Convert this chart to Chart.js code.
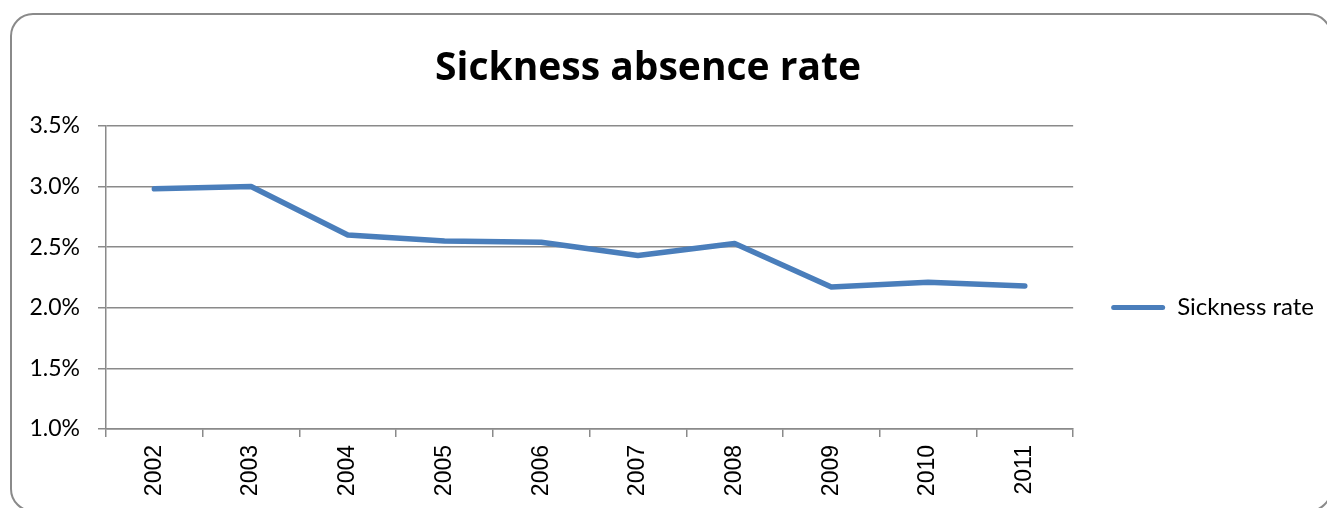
<!DOCTYPE html>
<html>
<head>
<meta charset="utf-8">
<title>Sickness absence rate</title>
<script src="https://cdn.jsdelivr.net/npm/chart.js@4/dist/chart.umd.min.js"></script>
<style>
  html, body { margin: 0; padding: 0; background: #ffffff; }
  #wrap { width: 1327px; height: 508px; }
</style>
</head>
<body>
<div id="wrap"><canvas id="chart" width="1327" height="508"></canvas></div>
<script>
// Yearly sickness absence rate, in percent
const years = ['2002', '2003', '2004', '2005', '2006', '2007', '2008', '2009', '2010', '2011'];
const sicknessRate = [2.98, 3.00, 2.60, 2.55, 2.54, 2.43, 2.53, 2.17, 2.21, 2.18];
const seriesName = 'Sickness rate';
const chartTitle = 'Sickness absence rate';
const yTicks = [1.0, 1.5, 2.0, 2.5, 3.0, 3.5];

const AXIS_GREY = '#8a8a8a';
const LINE_BLUE = '#4A7EBB';

// Rounded frame around the whole chart
const framePlugin = {
  id: 'frame',
  beforeDraw(chart) {
    const ctx = chart.ctx;
    ctx.save();
    ctx.strokeStyle = '#8a8a8a';
    ctx.lineWidth = 2;
    ctx.beginPath();
    ctx.roundRect(11, 14, 1320, 497, 22);
    ctx.stroke();
    ctx.restore();
  }
};

// Place the legend block beside the plot, a little below its centre
const legendPlacePlugin = {
  id: 'legendPlace',
  afterLayout(chart) {
    const lg = chart.legend;
    if (!lg) return;
    const dy = 30, dx = 28;
    lg.top += dy;
    lg.bottom += dy;
    lg.left += dx;
    lg.right += dx;
  }
};

new Chart(document.getElementById('chart'), {
  type: 'line',
  data: {
    labels: years,
    datasets: [{
      label: seriesName,
      data: sicknessRate,
      borderColor: LINE_BLUE,
      backgroundColor: LINE_BLUE,
      borderWidth: 5.5,
      borderCapStyle: 'round',
      borderJoinStyle: 'round',
      pointRadius: 0,
      pointHoverRadius: 0,
      tension: 0,
      fill: false
    }]
  },
  options: {
    responsive: false,
    devicePixelRatio: 1,
    animation: false,
    layout: { padding: { left: 0, right: 31, top: 0, bottom: 0 } },
    plugins: {
      title: {
        display: true,
        text: chartTitle,
        color: '#000000',
        font: { family: 'Open Sans', size: 39, weight: 'bold', lineHeight: 1.2 },
        padding: { top: 45, bottom: 34 }
      },
      legend: {
        display: true,
        position: 'right',
        align: 'center',
        fullSize: false,
        labels: {
          color: '#000000',
          font: { family: 'Lato', size: 24 },
          boxWidth: 54,
          boxHeight: 5,
          padding: 10,
          useBorderRadius: true,
          borderRadius: 2.5,
          generateLabels(chart) {
            return chart.data.datasets.map((ds, i) => ({
              text: ds.label,
              fillStyle: ds.borderColor,
              strokeStyle: ds.borderColor,
              lineWidth: 0,
              borderRadius: 2.5,
              hidden: false,
              datasetIndex: i
            }));
          }
        }
      },
      tooltip: { enabled: false }
    },
    scales: {
      x: {
        type: 'category',
        offset: true,
        grid: {
          display: true,
          drawOnChartArea: false,
          drawTicks: true,
          tickLength: 8,
          offset: true,
          color: AXIS_GREY,
          lineWidth: 1.5
        },
        border: { display: true, color: AXIS_GREY, width: 1.5 },
        ticks: {
          color: '#000000',
          font: { family: 'Liberation Sans', size: 23 },
          minRotation: 90,
          maxRotation: 90,
          autoSkip: false,
          padding: 8
        },
        afterFit(scale) { scale.height = 79; }
      },
      y: {
        type: 'linear',
        min: 1.0,
        max: 3.5,
        afterBuildTicks(scale) {
          scale.ticks = yTicks.map(v => ({ value: v }));
        },
        grid: {
          display: true,
          drawOnChartArea: true,
          drawTicks: true,
          tickLength: 8,
          color: AXIS_GREY,
          lineWidth: 1.5
        },
        border: { display: true, color: AXIS_GREY, width: 1.5 },
        ticks: {
          color: '#000000',
          font: { family: 'Lato', size: 23 },
          padding: 18,
          callback: v => v.toFixed(1) + '%'
        },
        afterFit(scale) { scale.width = 106; }
      }
    }
  },
  plugins: [framePlugin, legendPlacePlugin]
});
</script>
</body>
</html>
